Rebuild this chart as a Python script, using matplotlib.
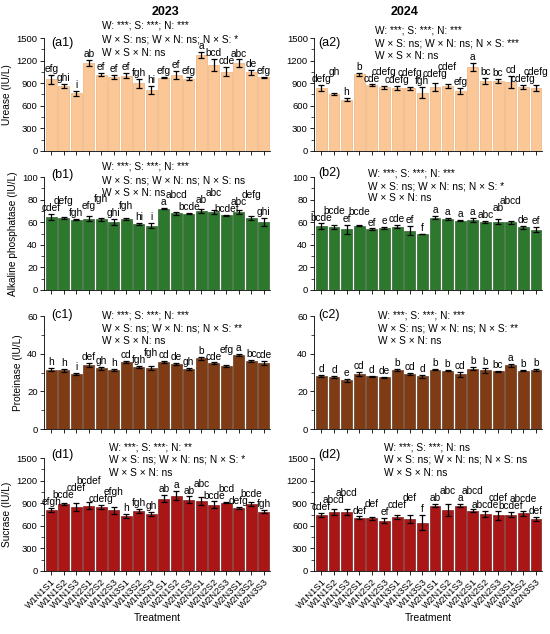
import matplotlib
matplotlib.use('Agg')
import matplotlib.pyplot as plt
from matplotlib.ticker import MultipleLocator

plt.rcParams['font.family'] = ['Liberation Sans', 'DejaVu Sans']

treatments = ['W1N1S1', 'W1N1S2', 'W1N1S3', 'W1N2S1', 'W1N2S2', 'W1N2S3',
              'W1N3S1', 'W1N3S2', 'W1N3S3', 'W2N1S1', 'W2N1S2', 'W2N1S3',
              'W2N2S1', 'W2N2S2', 'W2N2S3', 'W2N3S1', 'W2N3S2', 'W2N3S3']

# urease
ure23 = [955, 865, 765, 1170, 1015, 985, 1000, 900, 810, 975, 1010, 960, 1280, 1145, 1050, 1165, 1045, 980]
ure23_err = [60, 25, 30, 40, 25, 25, 35, 60, 50, 10, 50, 20, 40, 80, 60, 50, 30, 8]
ure23_let = ['efg', 'ghi', 'i', 'ab', 'ef', 'ef', 'ef', 'fgh', 'hi', 'efg', 'ef', 'efg', 'a', 'bcd', 'cde', 'abc', 'de', 'efg']
ure24 = [833, 760, 680, 1020, 875, 846, 838, 833, 776, 846, 864, 800, 1118, 930, 930, 912, 846, 833]
ure24_err = [40, 15, 20, 20, 8, 20, 25, 20, 70, 50, 25, 40, 50, 40, 30, 80, 25, 40]
ure24_let = ['defg', 'gh', 'h', 'b', 'cde', 'cdefg', 'cdefg', 'cdefg', 'fgh', 'cdefg', 'cdef', 'efg', 'a', 'bc', 'bc', 'cd', 'cdefg', 'cdefg']

# alkaline phosphatase
alp23 = [64.5, 63.5, 62.4, 63.2, 62.6, 60.3, 62.6, 58.5, 57, 72, 68, 67.4, 70, 69, 66.2, 69, 64, 60]
alp23_err = [2.5, 1, 0.5, 2, 1.5, 2.5, 1, 1, 2.5, 0.5, 1.5, 0.5, 1.5, 1.5, 0.5, 2, 2, 3.5]
alp23_let = ['cdef', 'defg', 'fgh', 'efg', 'fgh', 'ghi', 'fgh', 'hi', 'i', 'a', 'abcd', 'bcde', 'ab', 'abc', 'bcdef', 'abc', 'defg', 'ghi']
alp24 = [56.5, 56, 54, 56.8, 54, 54.7, 56, 52.5, 49.5, 64, 63, 61.5, 62, 60.5, 60.5, 60, 55.5, 53.5]
alp24_err = [2.5, 2, 4, 0.5, 0.5, 1, 1.5, 4, 0.3, 1.5, 0.7, 0.8, 1.5, 1, 2, 1.5, 1.5, 2]
alp24_let = ['bcde', 'bcde', 'ef', 'bcde', 'ef', 'e', 'cde', 'ef', 'f', 'a', 'a', 'a', 'a', 'abc', 'ab', 'abcd', 'de', 'ef']

# proteinase
pro23 = [31.6, 31.2, 29.3, 34.1, 32.3, 31.4, 35.5, 32.9, 32.5, 35.5, 34.5, 32, 37.5, 35, 33.6, 39.4, 36.2, 35]
pro23_err = [0.7, 0.7, 0.7, 1, 0.7, 0.6, 0.5, 0.5, 1.2, 0.6, 0.5, 0.4, 1, 0.4, 0.5, 0.7, 0.4, 1]
pro23_let = ['h', 'h', 'i', 'def', 'gh', 'h', 'cd', 'fgh', 'fgh', 'cd', 'de', 'gh', 'b', 'cde', 'efg', 'a', 'bc', 'cde']
pro24 = [28.3, 27.6, 25.9, 29.2, 28.1, 27.4, 31.6, 29.2, 28, 31.5, 31.1, 29, 32, 31.2, 30.6, 33.8, 31.1, 31.5]
pro24_err = [0.4, 0.5, 0.7, 1.2, 0.3, 0.3, 0.5, 0.6, 0.8, 0.3, 0.5, 1.2, 0.8, 1.5, 0.3, 0.6, 0.3, 0.5]
pro24_let = ['d', 'd', 'e', 'cd', 'd', 'de', 'b', 'cd', 'd', 'b', 'b', 'cd', 'b', 'b', 'bc', 'a', 'b', 'b']

# sucrase
suc23 = [810, 892, 850, 870, 852, 808, 732, 795, 755, 963, 999, 950, 932, 879, 905, 834, 888, 790]
suc23_err = [30, 10, 50, 50, 25, 45, 30, 25, 30, 45, 60, 40, 50, 45, 8, 15, 25, 25]
suc23_let = ['efgh', 'bcde', 'cdef', 'bcdef', 'cdefg', 'efgh', 'h', 'fgh', 'gh', 'ab', 'a', 'ab', 'abc', 'bcde', 'bcd', 'defg', 'bcde', 'fgh']
suc24 = [745, 785, 785, 705, 700, 670, 715, 688, 644, 865, 812, 869, 798, 760, 740, 750, 767, 692]
suc24_err = [25, 45, 40, 20, 20, 35, 30, 50, 100, 20, 80, 25, 20, 40, 60, 30, 30, 30]
suc24_let = ['cdef', 'abcd', 'abcd', 'def', 'def', 'ef', 'cdef', 'def', 'f', 'ab', 'abc', 'a', 'abcd', 'abcde', 'cdef', 'bcdef', 'abcde', 'def']

stats = {
    'a1': ['W: ***; S: ***; N: ***', 'W × S: ns; W × N: ns; N × S: *', 'W × S × N: ns'],
    'a2': ['W: ***; S: ***; N: ***', 'W × S: ns; W × N: ns; N × S: ***', 'W × S × N: ns'],
    'b1': ['W: ***; S: ***; N: ***', 'W × S: ns; W × N: ns; N × S: ns', 'W × S × N: ns'],
    'b2': ['W: ***; S: ***; N: ***', 'W × S: ns; W × N: ns; N × S: *', 'W × S × N: ns'],
    'c1': ['W: ***; S: ***; N: ***', 'W × S: ns; W × N: ns; N × S: **', 'W × S × N: ns'],
    'c2': ['W: ***; S: ***; N: ***', 'W × S: ns; W × N: ns; N × S: **', 'W × S × N: ns'],
    'd1': ['W: ***; S: ***; N: **', 'W × S: ns; W × N: ns; N × S: *', 'W × S × N: ns'],
    'd2': ['W: ***; S: ***; N: ns', 'W × S: ns; W × N: ns; N × S: ns', 'W × S × N: ns'],
}

rows = [
    ('a', 'Urease (IU/L)', '#FCC796', '#E8A56A', (0, 1500), 300, 150,
     (ure23, ure23_err, ure23_let), (ure24, ure24_err, ure24_let)),
    ('b', 'Alkaline phosphatase (IU/L)', '#2C782C', '#1B4A1B', (0, 100), 20, 10,
     (alp23, alp23_err, alp23_let), (alp24, alp24_err, alp24_let)),
    ('c', 'Proteinase (IU/L)', '#7E3B14', '#4A220A', (0, 60), 20, 10,
     (pro23, pro23_err, pro23_let), (pro24, pro24_err, pro24_let)),
    ('d', 'Sucrase (IU/L)', '#AA1515', '#5E0A0A', (0, 1500), 300, 150,
     (suc23, suc23_err, suc23_let), (suc24, suc24_err, suc24_let)),
]

# layout, figure fractions
col_x = [0.080, 0.571]
col_w = [0.411, 0.415]
row_y = [0.762, 0.5426, 0.3233, 0.0994]
row_h = 0.178

# text positions in axes coords
stat_pos = {
    'a1': (0.257, [1.115, 0.991, 0.867]), 'a2': (0.268, [1.07, 0.956, 0.84]),
    'b1': (0.257, [1.097, 0.973, 0.858]), 'b2': (0.237, [1.035, 0.92, 0.814]),
    'c1': (0.257, [1.009, 0.894, 0.779]), 'c2': (0.28, [1.009, 0.894, 0.779]),
    'd1': (0.288, [1.097, 0.991, 0.867]), 'd2': (0.307, [1.097, 0.991, 0.867]),
}
lab_pos = {
    'a1': (0.03, 0.956), 'a2': (0.02, 0.956),
    'b1': (0.03, 1.02), 'b2': (0.02, 1.035),
    'c1': (0.03, 1.009), 'c2': (0.02, 1.009),
    'd1': (0.03, 1.027), 'd2': (0.02, 1.027),
}

fig = plt.figure(figsize=(5.5, 6.34), dpi=100)
renderer = fig.canvas.get_renderer()
x = list(range(len(treatments)))

for r, (key, ylab, color, edge, ylim, major, minor, d23, d24) in enumerate(rows):
    for c, (vals, errs, lets) in enumerate([d23, d24]):
        ax = fig.add_axes([col_x[c], row_y[r], col_w[c], row_h])
        ax.bar(x, vals, width=0.86, color=color, edgecolor=edge, linewidth=0.4)
        ax.errorbar(x, vals, yerr=errs, fmt='none', ecolor='black',
                    elinewidth=0.9, capsize=2, capthick=0.9)
        ax.set_ylim(*ylim)
        ax.set_xlim(-0.58, len(x) - 0.5)
        off = (ylim[1] - ylim[0]) * 0.008
        # letters, lifted when they run into the previous one
        prev = None
        for xi, v, e, l in zip(x, vals, errs, lets):
            t = ax.text(xi, v + e + off, l, ha='center', va='bottom', fontsize=7.3)
            bb = t.get_window_extent(renderer)
            if prev is not None and bb.x0 < prev.x1 - 1 and bb.y0 < prev.y1 - 2 and bb.y1 > prev.y0 + 2:
                ynew = ax.transData.inverted().transform((0, prev.y1 - 3))[1]
                t.set_y(max(ynew, v + e + off))
                bb = t.get_window_extent(renderer)
            prev = bb
        ax.yaxis.set_major_locator(MultipleLocator(major))
        ax.yaxis.set_minor_locator(MultipleLocator(minor))
        ax.spines['top'].set_visible(False)
        ax.spines['right'].set_visible(False)
        ax.tick_params(axis='both', labelsize=6.8, length=3, width=0.6, pad=1.5)
        ax.tick_params(axis='y', which='minor', length=2, width=0.5)
        ax.spines['left'].set_linewidth(0.6)
        ax.spines['bottom'].set_linewidth(0.6)
        ax.set_xticks(x)
        name = key + str(c + 1)
        if r == 3:
            ax.set_xticklabels(treatments, rotation=45, ha='right',
                               rotation_mode='anchor', fontsize=6.8)
            ax.set_xlabel('Treatment', fontsize=7.5, labelpad=2)
        else:
            ax.set_xticklabels([])
        if c == 0:
            ax.set_ylabel(ylab, fontsize=7.3, labelpad=3)
        sx, sys_ = stat_pos[name]
        for line, yy in zip(stats[name], sys_):
            ax.text(sx, yy, line, transform=ax.transAxes, fontsize=7.3,
                    ha='left', va='center')
        lx, ly = lab_pos[name]
        ax.text(lx, ly, '(' + name + ')', transform=ax.transAxes, fontsize=9,
                ha='left', va='center')

fig.text(165 / 550, 1 - 12 / 634, '2023', ha='center', va='center',
         fontsize=9, fontweight='bold')
fig.text(405 / 550, 1 - 12 / 634, '2024', ha='center', va='center',
         fontsize=9, fontweight='bold')

fig.savefig('out.png', dpi=100)
